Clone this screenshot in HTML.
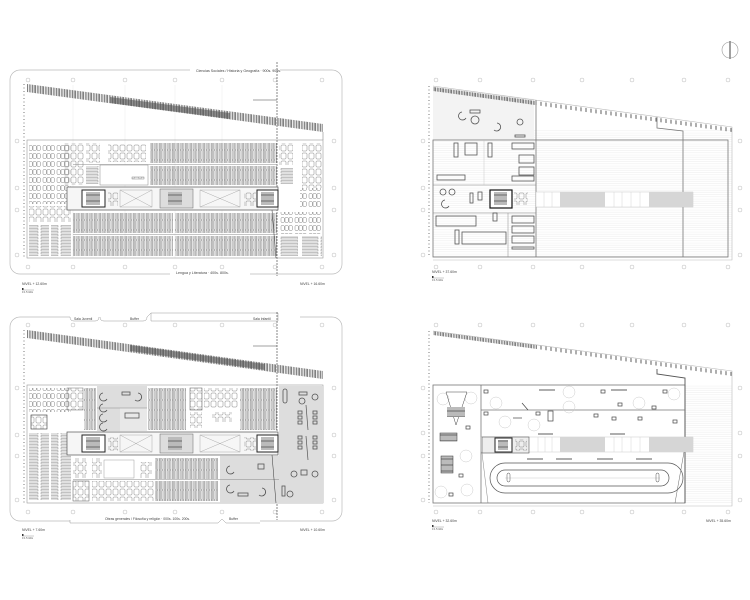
<!DOCTYPE html>
<html><head><meta charset="utf-8"><style>
html,body{margin:0;padding:0;background:#fff}
svg{display:block}
text{font-family:"Liberation Sans",sans-serif;fill:#444}
</style></head><body>
<svg width="750" height="600" viewBox="0 0 750 600" xmlns="http://www.w3.org/2000/svg">
<defs>
<pattern id="vl" width="2.6" height="10" patternUnits="userSpaceOnUse"><rect x="0.6" y="0.5" width="1.2" height="9" fill="none" stroke="#666" stroke-width="0.45"/></pattern>
<pattern id="hl" width="20" height="3" patternUnits="userSpaceOnUse"><rect x="1" y="0.6" width="17" height="1.4" fill="none" stroke="#777" stroke-width="0.45"/></pattern>
<pattern id="tb" width="14" height="8" patternUnits="userSpaceOnUse"><rect x="1" y="1.5" width="3.3" height="5" rx="1" fill="none" stroke="#777" stroke-width="0.45"/><rect x="5" y="1.5" width="3.3" height="5" rx="1" fill="none" stroke="#777" stroke-width="0.45"/><rect x="9" y="1.5" width="3.3" height="5" rx="1" fill="none" stroke="#777" stroke-width="0.45"/></pattern>
<pattern id="tb2" width="7" height="8" patternUnits="userSpaceOnUse"><rect x="1" y="1" width="5" height="6" rx="1" fill="none" stroke="#777" stroke-width="0.45"/></pattern>
<pattern id="bd" width="1.6" height="10" patternUnits="userSpaceOnUse"><line x1="0.5" y1="0" x2="0.5" y2="10" stroke="#333" stroke-width="0.6"/></pattern>
<pattern id="bd2" width="5" height="10" patternUnits="userSpaceOnUse"><line x1="1" y1="0" x2="1" y2="10" stroke="#333" stroke-width="0.8"/></pattern>
<pattern id="fh" width="10" height="2.2" patternUnits="userSpaceOnUse"><line x1="0" y1="1" x2="10" y2="1" stroke="#e2e2e2" stroke-width="0.35"/></pattern>
<pattern id="xs" width="6" height="6" patternUnits="userSpaceOnUse"><rect width="6" height="6" fill="#bbb"/><line x1="0" y1="3" x2="6" y2="3" stroke="#333" stroke-width="0.6"/></pattern>
</defs>

<circle cx="730" cy="50" r="8" fill="none" stroke="#999" stroke-width="0.6"/>
<line x1="730" y1="41" x2="730" y2="59" stroke="#888" stroke-width="1.6"/>

<!-- TOP LEFT -->
<g>
<rect x="10" y="70" width="332" height="204" rx="10" fill="none" stroke="#bbb" stroke-width="0.7"/>
<rect x="190" y="67" width="90" height="6" fill="#fff"/>
<text x="196" y="72" font-size="3.6">Ciencias Sociales / Historia y Geografía · 900s. 909s.</text>
<rect x="170" y="269" width="80" height="7" fill="#fff"/>
<text x="176" y="274" font-size="3.6">Lengua y Literatura · 400s. 800s.</text>
<g fill="none" stroke="#aaa" stroke-width="0.4">
<circle cx="28" cy="80" r="2"/><circle cx="73" cy="80" r="2"/><circle cx="125" cy="80" r="2"/><circle cx="175" cy="80" r="2"/><circle cx="222" cy="80" r="2"/><circle cx="275" cy="80" r="2"/><circle cx="322" cy="80" r="2"/>
<circle cx="28" cy="267" r="2"/><circle cx="73" cy="267" r="2"/><circle cx="125" cy="267" r="2"/><circle cx="175" cy="267" r="2"/><circle cx="222" cy="267" r="2"/><circle cx="275" cy="267" r="2"/><circle cx="322" cy="267" r="2"/>
<circle cx="17" cy="141" r="2"/><circle cx="17" cy="188" r="2"/><circle cx="17" cy="210" r="2"/><circle cx="17" cy="255" r="2"/>
<circle cx="334" cy="141" r="2"/><circle cx="334" cy="188" r="2"/><circle cx="334" cy="210" r="2"/><circle cx="334" cy="255" r="2"/>
</g>
<g stroke="#e4e4e4" stroke-width="0.4"><line x1="73" y1="85" x2="73" y2="258"/><line x1="125" y1="85" x2="125" y2="258"/><line x1="175" y1="85" x2="175" y2="258"/><line x1="222" y1="85" x2="222" y2="258"/></g>
<line x1="24" y1="84" x2="24" y2="258" stroke="#555" stroke-width="0.8" stroke-dasharray="1 2.5"/>
<polygon points="27,84 323,124 323,132 27,92" fill="url(#bd)"/>
<polygon points="110,97 230,113 230,119 110,103" fill="#555" opacity="0.6"/>
<polyline points="323,132 323,140" stroke="#888" stroke-width="0.6" fill="none"/>
<line x1="277" y1="62" x2="277" y2="276" stroke="#555" stroke-width="0.7" stroke-dasharray="2 1"/>
<line x1="253" y1="100" x2="277" y2="100" stroke="#444" stroke-width="0.6"/>
<rect x="27" y="140" width="296" height="118" fill="none" stroke="#999" stroke-width="0.6"/>
<rect x="29" y="144" width="42" height="60" fill="url(#tb)"/>
<rect x="29" y="206" width="42" height="16" fill="url(#tb2)"/>
<rect x="29" y="225" width="20" height="31" fill="url(#hl)"/>
<rect x="51" y="225" width="20" height="31" fill="url(#hl)"/>
<rect x="64" y="143" width="20" height="42" fill="url(#tb2)"/>
<rect x="86" y="143" width="14" height="20" fill="url(#tb2)"/>
<rect x="86" y="166" width="14" height="18" fill="url(#hl)"/>
<rect x="108" y="144" width="38" height="18" fill="url(#tb2)"/>
<rect x="100" y="165" width="48" height="20" fill="#fff" stroke="#888" stroke-width="0.5"/>
<rect x="132" y="177" width="12" height="2" fill="url(#tb2)" stroke="#666" stroke-width="0.4"/>
<rect x="150" y="143" width="127" height="20" fill="url(#vl)"/>
<rect x="150" y="166" width="127" height="19" fill="url(#vl)"/>
<line x1="73" y1="164.5" x2="277" y2="164.5" stroke="#888" stroke-width="0.5"/>
<rect x="67" y="187" width="211" height="23" fill="#f6f6f6" stroke="#555" stroke-width="0.7"/>
<rect x="82" y="190" width="23" height="17" fill="#fff" stroke="#222" stroke-width="1"/>
<rect x="86" y="192" width="14" height="13" fill="url(#xs)"/>
<rect x="108" y="192" width="10" height="14" fill="url(#tb2)"/>
<g stroke="#999" stroke-width="0.4" fill="none"><rect x="120" y="190" width="32" height="17"/><line x1="120" y1="190" x2="152" y2="207"/><line x1="152" y1="190" x2="120" y2="207"/>
<rect x="200" y="190" width="40" height="17"/><line x1="200" y1="190" x2="240" y2="207"/><line x1="240" y1="190" x2="200" y2="207"/></g>
<rect x="160" y="189" width="33" height="19" fill="#ddd" stroke="#666" stroke-width="0.5"/>
<rect x="168" y="192" width="14" height="13" fill="url(#xs)"/>
<rect x="244" y="192" width="12" height="14" fill="url(#tb2)"/>
<rect x="257" y="190" width="21" height="17" fill="#fff" stroke="#222" stroke-width="1"/>
<rect x="261" y="192" width="13" height="13" fill="url(#xs)"/>
<rect x="73" y="213" width="100" height="20" fill="url(#vl)"/>
<rect x="175" y="213" width="102" height="20" fill="url(#vl)"/>
<rect x="73" y="236" width="100" height="20" fill="url(#vl)"/>
<rect x="175" y="236" width="102" height="20" fill="url(#vl)"/>
<line x1="73" y1="234.5" x2="277" y2="234.5" stroke="#888" stroke-width="0.5"/>
<rect x="279" y="143" width="14" height="22" fill="url(#tb2)"/>
<rect x="302" y="143" width="20" height="45" fill="url(#tb2)"/>
<rect x="279" y="168" width="14" height="16" fill="url(#hl)"/>
<rect x="300" y="188" width="22" height="20" fill="url(#tb)"/>
<rect x="280" y="212" width="42" height="22" fill="url(#tb)"/>
<rect x="280" y="236" width="18" height="20" fill="url(#hl)"/>
<rect x="302" y="236" width="20" height="20" fill="url(#hl)"/>
<line x1="272" y1="210" x2="276" y2="258" stroke="#333" stroke-width="0.5"/>
<text x="22" y="285" font-size="3.4">NIVEL + 12.60m</text>
<text x="300" y="285" font-size="3.4">NIVEL + 16.60m</text>
<rect x="22" y="288" width="1.5" height="2" fill="#333"/><line x1="22" y1="290" x2="34" y2="290" stroke="#555" stroke-width="0.3"/>
<text x="22" y="293" font-size="2.5">0 1   5     10m</text>
</g>

<!-- BOTTOM LEFT -->
<g>
<rect x="10" y="317" width="332" height="204" rx="10" fill="none" stroke="#bbb" stroke-width="0.7"/>
<rect x="70" y="313" width="230" height="8" fill="#fff"/>
<path d="M70,317 Q70,321 74,321 H95 Q99,321 99,317 M100,317 Q100,321 104,321 H143 Q147,321 147,317 L151,313 M151,313 H278 V321 H151 Z" fill="none" stroke="#999" stroke-width="0.5"/>
<text x="74" y="320" font-size="3.4">Sala Juvenil</text>
<text x="130" y="320" font-size="3.4">Buffer</text>
<text x="253" y="320" font-size="3.4">Sala Infantil</text>
<rect x="70" y="515" width="190" height="8" fill="#fff"/>
<path d="M70,520 V523 H218 L222,519 L226,523 H260" fill="none" stroke="#999" stroke-width="0.5"/>
<text x="105" y="520" font-size="3.4">Obras generales / Filosofía y religión · 000s. 100s. 200s.</text>
<text x="229" y="520" font-size="3.4">Buffer</text>
<g fill="none" stroke="#aaa" stroke-width="0.4">
<circle cx="28" cy="325" r="2"/><circle cx="73" cy="325" r="2"/><circle cx="125" cy="325" r="2"/><circle cx="175" cy="325" r="2"/><circle cx="222" cy="325" r="2"/><circle cx="275" cy="325" r="2"/><circle cx="322" cy="325" r="2"/>
<circle cx="28" cy="512" r="2"/><circle cx="73" cy="512" r="2"/><circle cx="125" cy="512" r="2"/><circle cx="175" cy="512" r="2"/><circle cx="222" cy="512" r="2"/><circle cx="275" cy="512" r="2"/><circle cx="322" cy="512" r="2"/>
<circle cx="17" cy="388" r="2"/><circle cx="17" cy="435" r="2"/><circle cx="17" cy="456" r="2"/><circle cx="17" cy="500" r="2"/>
<circle cx="334" cy="388" r="2"/><circle cx="334" cy="435" r="2"/><circle cx="334" cy="456" r="2"/><circle cx="334" cy="500" r="2"/>
</g>
<line x1="24" y1="330" x2="24" y2="503" stroke="#555" stroke-width="0.8" stroke-dasharray="1 2.5"/>
<polygon points="27,330 323,371 323,379 27,338" fill="url(#bd)"/>
<polygon points="130,345 265,364 265,370 130,351" fill="#555" opacity="0.6"/>
<line x1="277" y1="312" x2="277" y2="520" stroke="#555" stroke-width="0.7" stroke-dasharray="2 1"/>
<line x1="253" y1="346" x2="277" y2="346" stroke="#444" stroke-width="0.6"/>
<rect x="27" y="385" width="296" height="118" fill="none" stroke="#999" stroke-width="0.6"/>
<rect x="97" y="386" width="50" height="45" fill="#ddd"/>
<rect x="279" y="386" width="44" height="96" fill="#ddd"/>
<rect x="220" y="456" width="59" height="47" fill="#ddd"/>
<rect x="279" y="482" width="44" height="21" fill="#ddd"/>
<rect x="120" y="408" width="27" height="23" fill="#e8e8e8"/>
<line x1="97" y1="408" x2="147" y2="408" stroke="#888" stroke-width="0.5"/>
<rect x="29" y="388" width="42" height="24" fill="url(#tb)"/>
<rect x="31" y="415" width="16" height="14" fill="url(#tb2)" stroke="#333" stroke-width="0.6"/>
<rect x="29" y="433" width="20" height="67" fill="url(#hl)"/>
<rect x="51" y="433" width="20" height="67" fill="url(#hl)"/>
<rect x="67" y="388" width="16" height="22" fill="url(#tb2)" stroke="#777" stroke-width="0.5"/>
<rect x="84" y="388" width="12" height="42" fill="url(#vl)"/>
<rect x="148" y="388" width="38" height="42" fill="url(#vl)"/>
<rect x="190" y="388" width="12" height="22" fill="url(#tb2)" stroke="#555" stroke-width="0.5"/>
<rect x="204" y="388" width="34" height="20" fill="url(#tb2)"/>
<rect x="190" y="412" width="12" height="16" fill="url(#tb2)"/>
<rect x="212" y="412" width="20" height="10" fill="url(#tb2)"/>
<rect x="240" y="388" width="37" height="42" fill="url(#vl)"/>
<g fill="none" stroke="#555" stroke-width="0.8">
<path d="M103,393 a4,4 0 1,0 4,6"/><path d="M103,404 a4,4 0 1,0 4,6"/><path d="M103,414 a4,4 0 1,0 4,6"/><path d="M103,423 a4,4 0 1,0 4,6"/>
<path d="M138,393 a4,4 0 1,1 -3,7"/><rect x="122" y="392" width="8" height="3"/><rect x="125" y="413" width="14" height="5"/>
<rect x="283" y="389" width="4" height="14" rx="2"/><rect x="299" y="392" width="8" height="3"/><circle cx="315" cy="397" r="3"/><circle cx="302" cy="401" r="3"/>
<rect x="298" y="411" width="4" height="3"/><rect x="298" y="416" width="4" height="3"/><rect x="298" y="421" width="4" height="3"/><rect x="313" y="411" width="4" height="3"/><rect x="313" y="416" width="4" height="3"/><rect x="313" y="421" width="4" height="3"/>
<rect x="298" y="436" width="4" height="3"/><rect x="298" y="441" width="4" height="3"/><rect x="298" y="446" width="4" height="3"/><rect x="313" y="436" width="4" height="3"/><rect x="313" y="441" width="4" height="3"/><rect x="313" y="446" width="4" height="3"/>
<rect x="301" y="470" width="6" height="5"/><circle cx="294" cy="474" r="3"/><circle cx="315" cy="474" r="3"/>
<path d="M230,466 a4,4 0 1,0 4,6"/><path d="M230,485 a4,4 0 1,0 4,6"/><path d="M262,488 a4,4 0 1,1 -3,7"/><rect x="258" y="464" width="6" height="5"/><rect x="238" y="493" width="10" height="3"/>
<circle cx="290" cy="494" r="3"/><rect x="282" y="486" width="3" height="10"/>
</g>
<line x1="306" y1="405" x2="308" y2="430" stroke="#555" stroke-width="0.7"/><line x1="306" y1="436" x2="308" y2="460" stroke="#555" stroke-width="0.7"/>
<rect x="67" y="432" width="211" height="23" fill="#f6f6f6" stroke="#555" stroke-width="0.7"/>
<rect x="82" y="435" width="23" height="17" fill="#fff" stroke="#222" stroke-width="1"/>
<rect x="86" y="437" width="14" height="13" fill="url(#xs)"/>
<rect x="108" y="437" width="10" height="14" fill="url(#tb2)"/>
<g stroke="#999" stroke-width="0.4" fill="none"><rect x="120" y="435" width="32" height="17"/><line x1="120" y1="435" x2="152" y2="452"/><line x1="152" y1="435" x2="120" y2="452"/>
<rect x="200" y="435" width="40" height="17"/><line x1="200" y1="435" x2="240" y2="452"/><line x1="240" y1="435" x2="200" y2="452"/></g>
<rect x="160" y="434" width="33" height="19" fill="#ddd" stroke="#666" stroke-width="0.5"/>
<rect x="168" y="437" width="14" height="13" fill="url(#xs)"/>
<rect x="244" y="437" width="12" height="14" fill="url(#tb2)"/>
<rect x="257" y="435" width="21" height="17" fill="#fff" stroke="#222" stroke-width="1"/>
<rect x="261" y="437" width="13" height="13" fill="url(#xs)"/>
<rect x="73" y="458" width="14" height="20" fill="url(#tb2)"/>
<rect x="92" y="458" width="10" height="20" fill="url(#tb2)"/>
<rect x="104" y="460" width="30" height="18" fill="#fff" stroke="#888" stroke-width="0.4"/>
<rect x="140" y="462" width="12" height="16" fill="url(#tb2)"/>
<rect x="155" y="458" width="63" height="21" fill="url(#vl)"/>
<rect x="73" y="481" width="16" height="20" fill="url(#tb2)" stroke="#555" stroke-width="0.5"/>
<rect x="92" y="481" width="62" height="20" fill="url(#tb2)"/>
<rect x="155" y="481" width="63" height="20" fill="url(#vl)"/>
<line x1="73" y1="479.5" x2="279" y2="479.5" stroke="#888" stroke-width="0.5"/>
<line x1="272" y1="455" x2="276" y2="503" stroke="#333" stroke-width="0.5"/>
<text x="22" y="531" font-size="3.4">NIVEL + 7.60m</text>
<text x="300" y="531" font-size="3.4">NIVEL + 10.60m</text>
<rect x="22" y="534" width="1.5" height="2" fill="#333"/><line x1="22" y1="536" x2="34" y2="536" stroke="#555" stroke-width="0.3"/>
<text x="22" y="539" font-size="2.5">0 1   5     10m</text>
</g>

<!-- TOP RIGHT -->
<g>
<g fill="none" stroke="#aaa" stroke-width="0.4">
<circle cx="436" cy="80" r="2"/><circle cx="480" cy="80" r="2"/><circle cx="533" cy="80" r="2"/><circle cx="582" cy="80" r="2"/><circle cx="632" cy="80" r="2"/><circle cx="684" cy="80" r="2"/><circle cx="728" cy="80" r="2"/>
<circle cx="436" cy="267" r="2"/><circle cx="480" cy="267" r="2"/><circle cx="533" cy="267" r="2"/><circle cx="582" cy="267" r="2"/><circle cx="632" cy="267" r="2"/><circle cx="684" cy="267" r="2"/><circle cx="728" cy="267" r="2"/>
<circle cx="423" cy="141" r="2"/><circle cx="423" cy="188" r="2"/><circle cx="423" cy="210" r="2"/><circle cx="423" cy="255" r="2"/>
<circle cx="740" cy="141" r="2"/><circle cx="740" cy="188" r="2"/><circle cx="740" cy="210" r="2"/><circle cx="740" cy="255" r="2"/>
</g>
<rect x="433" y="130" width="299" height="127" fill="url(#fh)"/>
<polygon points="433,86 534,99 534,140 433,140" fill="#f3f3f3"/>
<polygon points="433,87 535,101 535,105 433,91" fill="url(#bd)"/>
<polygon points="535,101 732,128 732,132 535,105" fill="url(#bd2)"/>
<polyline points="433,86 732,127 732,260 433,260" fill="none" stroke="#bbb" stroke-width="0.6"/>
<line x1="429" y1="86" x2="429" y2="257" stroke="#555" stroke-width="0.8" stroke-dasharray="1 2.5"/>
<rect x="433" y="140" width="295" height="117" fill="none" stroke="#777" stroke-width="0.8"/>
<line x1="536" y1="100" x2="536" y2="257" stroke="#777" stroke-width="0.8"/>
<line x1="433" y1="185" x2="536" y2="185" stroke="#888" stroke-width="0.6"/>
<line x1="433" y1="213" x2="536" y2="213" stroke="#888" stroke-width="0.6"/>
<line x1="484" y1="140" x2="484" y2="185" stroke="#bbb" stroke-width="0.4"/>
<line x1="508" y1="213" x2="508" y2="257" stroke="#888" stroke-width="0.5"/>
<polyline points="657,117 657,128 683,131 683,257" fill="none" stroke="#777" stroke-width="0.8"/>
<g fill="none" stroke="#555" stroke-width="0.8">
<path d="M462,112 a4,4 0 1,0 4,6"/><circle cx="475" cy="120" r="4"/><rect x="470" y="110" width="10" height="3"/><path d="M497,123 a4,4 0 1,1 -3,7"/><circle cx="520" cy="122" r="3"/><rect x="515" y="135" width="10" height="2"/>
<rect x="454" y="143" width="4" height="14"/><rect x="465" y="143" width="12" height="12"/><rect x="488" y="143" width="4" height="14"/><rect x="512" y="143" width="22" height="6"/>
<rect x="519" y="155" width="15" height="8"/><rect x="519" y="167" width="15" height="8"/><rect x="437" y="175" width="28" height="5"/><rect x="512" y="176" width="22" height="5"/>
<circle cx="443" cy="192" r="3"/><circle cx="452" cy="192" r="3"/><path d="M445,200 a4,4 0 1,0 4,6"/><rect x="470" y="193" width="3" height="10"/><rect x="478" y="192" width="4" height="8"/>
<rect x="436" y="216" width="40" height="10"/><rect x="455" y="230" width="4" height="14"/><rect x="462" y="232" width="44" height="12"/><rect x="512" y="216" width="22" height="7"/><rect x="512" y="226" width="22" height="7"/><rect x="512" y="236" width="22" height="7"/><rect x="512" y="247" width="22" height="2"/>
<rect x="493" y="213" width="4" height="8"/>
</g>
<rect x="490" y="190" width="22" height="18" fill="#fff" stroke="#111" stroke-width="1.2"/>
<rect x="494" y="192" width="13" height="13" fill="url(#xs)"/>
<rect x="514" y="192" width="14" height="13" fill="url(#tb2)"/>
<rect x="536" y="192" width="157" height="15" fill="#fff" stroke="#bbb" stroke-width="0.4"/>
<g stroke="#ccc" stroke-width="0.4"><line x1="544" y1="192" x2="544" y2="207"/><line x1="552" y1="192" x2="552" y2="207"/><line x1="614" y1="192" x2="614" y2="207"/><line x1="622" y1="192" x2="622" y2="207"/><line x1="631" y1="192" x2="631" y2="207"/><line x1="640" y1="192" x2="640" y2="207"/></g>
<rect x="560" y="192" width="45" height="15" fill="#d6d6d6"/>
<rect x="649" y="192" width="44" height="15" fill="#d6d6d6"/>
<text x="432" y="273" font-size="3.4">NIVEL + 37.60m</text>
<rect x="432" y="276" width="1.5" height="2" fill="#333"/><line x1="432" y1="278" x2="444" y2="278" stroke="#555" stroke-width="0.3"/>
<text x="432" y="281" font-size="2.5">0 1   5     10m</text>
</g>

<!-- BOTTOM RIGHT -->
<g>
<g fill="none" stroke="#aaa" stroke-width="0.4">
<circle cx="436" cy="325" r="2"/><circle cx="480" cy="325" r="2"/><circle cx="533" cy="325" r="2"/><circle cx="582" cy="325" r="2"/><circle cx="632" cy="325" r="2"/><circle cx="684" cy="325" r="2"/><circle cx="728" cy="325" r="2"/>
<circle cx="436" cy="512" r="2"/><circle cx="480" cy="512" r="2"/><circle cx="533" cy="512" r="2"/><circle cx="582" cy="512" r="2"/><circle cx="632" cy="512" r="2"/><circle cx="684" cy="512" r="2"/><circle cx="728" cy="512" r="2"/>
<circle cx="423" cy="388" r="2"/><circle cx="423" cy="433" r="2"/><circle cx="423" cy="456" r="2"/><circle cx="423" cy="500" r="2"/>
<circle cx="740" cy="388" r="2"/><circle cx="740" cy="433" r="2"/><circle cx="740" cy="456" r="2"/><circle cx="740" cy="500" r="2"/>
</g>
<rect x="685" y="385" width="47" height="118" fill="url(#fh)"/>
<polygon points="433,331 537,345 537,349 433,335" fill="url(#bd)"/>
<polygon points="537,345 732,372 732,376 537,349" fill="url(#bd2)"/>
<polyline points="433,331 732,371 732,506 433,506" fill="none" stroke="#bbb" stroke-width="0.6"/>
<line x1="429" y1="331" x2="429" y2="503" stroke="#555" stroke-width="0.8" stroke-dasharray="1 2.5"/>
<rect x="433" y="385" width="252" height="118" fill="none" stroke="#777" stroke-width="0.8"/>
<polyline points="657,369 657,374 685,378 685,503" fill="none" stroke="#555" stroke-width="0.9"/>
<line x1="481" y1="385" x2="481" y2="503" stroke="#666" stroke-width="0.7"/>
<line x1="481" y1="410" x2="685" y2="410" stroke="#777" stroke-width="0.7"/>
<g stroke="#777" stroke-width="1.2"><line x1="539" y1="390" x2="555" y2="390"/><line x1="611" y1="390" x2="627" y2="390"/><line x1="538" y1="434" x2="553" y2="434"/><line x1="610" y1="434" x2="625" y2="434"/>
<line x1="527" y1="459" x2="543" y2="459"/><line x1="556" y1="459" x2="572" y2="459"/><line x1="597" y1="459" x2="613" y2="459"/><line x1="636" y1="459" x2="652" y2="459"/></g>
<g fill="none" stroke="#ccc" stroke-width="0.5">
<circle cx="443" cy="399" r="6"/><circle cx="471" cy="398" r="6"/><circle cx="496" cy="403" r="6"/><circle cx="569" cy="392" r="6"/><circle cx="639" cy="403" r="6"/><circle cx="674" cy="394" r="6"/><circle cx="505" cy="422" r="6"/><circle cx="569" cy="407" r="6"/><circle cx="534" cy="425" r="6"/><circle cx="466" cy="456" r="6"/><circle cx="441" cy="492" r="6"/><circle cx="467" cy="490" r="6"/>
</g>
<g fill="none" stroke="#444" stroke-width="0.7">
<rect x="484" y="390" width="4" height="3"/><rect x="601" y="390" width="4" height="3"/><rect x="663" y="390" width="4" height="3"/><rect x="618" y="403" width="4" height="3"/><rect x="484" y="412" width="4" height="3"/><rect x="536" y="412" width="4" height="3"/><rect x="594" y="414" width="4" height="3"/><rect x="652" y="406" width="4" height="3"/><rect x="612" y="417" width="4" height="3"/><rect x="638" y="417" width="4" height="3"/><rect x="673" y="420" width="4" height="3"/><rect x="548" y="411" width="5" height="10"/><rect x="466" y="426" width="4" height="3"/><rect x="459" y="474" width="4" height="3"/><rect x="449" y="493" width="4" height="3"/>
<line x1="522" y1="403" x2="528" y2="410"/><line x1="513" y1="418" x2="522" y2="418"/>
</g>
<polygon points="446,392 467,392 456,425" fill="none" stroke="#444" stroke-width="0.5"/>
<rect x="447" y="407" width="18" height="10" fill="url(#xs)"/>
<rect x="440" y="433" width="17" height="8" fill="url(#xs)" stroke="#333" stroke-width="0.5"/>
<rect x="441" y="456" width="12" height="17" fill="url(#xs)" stroke="#333" stroke-width="0.5"/>
<rect x="481" y="437" width="212" height="15" fill="#fff" stroke="#bbb" stroke-width="0.4"/>
<rect x="482" y="437" width="47" height="16" fill="#eee" stroke="#555" stroke-width="0.6"/>
<rect x="495" y="438" width="17" height="14" fill="#fff" stroke="#222" stroke-width="1"/>
<rect x="498" y="440" width="10" height="10" fill="url(#xs)"/>
<rect x="515" y="439" width="12" height="12" fill="url(#tb2)"/>
<g stroke="#ccc" stroke-width="0.4"><line x1="538" y1="437" x2="538" y2="452"/><line x1="545" y1="437" x2="545" y2="452"/><line x1="552" y1="437" x2="552" y2="452"/><line x1="614" y1="437" x2="614" y2="452"/><line x1="622" y1="437" x2="622" y2="452"/><line x1="631" y1="437" x2="631" y2="452"/><line x1="640" y1="437" x2="640" y2="452"/></g>
<rect x="560" y="437" width="45" height="15" fill="#d6d6d6"/>
<rect x="649" y="437" width="44" height="15" fill="#d6d6d6"/>
<rect x="490" y="463" width="193" height="30" rx="15" fill="none" stroke="#555" stroke-width="0.7"/>
<rect x="497" y="470" width="172" height="16" rx="8" fill="none" stroke="#555" stroke-width="0.7"/>
<line x1="505" y1="478" x2="660" y2="478" stroke="#aaa" stroke-width="0.3"/>
<rect x="507" y="473" width="3" height="9" rx="1.5" fill="none" stroke="#555" stroke-width="0.5"/>
<rect x="656" y="473" width="3" height="9" rx="1.5" fill="none" stroke="#555" stroke-width="0.5"/>
<line x1="684" y1="452" x2="675" y2="503" stroke="#666" stroke-width="0.5"/>
<line x1="482" y1="453" x2="488" y2="503" stroke="#666" stroke-width="0.4"/>
<text x="432" y="522" font-size="3.4">NIVEL + 32.60m</text>
<text x="706" y="522" font-size="3.4">NIVEL + 35.60m</text>
<rect x="432" y="525" width="1.5" height="2" fill="#333"/><line x1="432" y1="527" x2="444" y2="527" stroke="#555" stroke-width="0.3"/>
<text x="432" y="530" font-size="2.5">0 1   5     10m</text>
</g>
</svg>
</body></html>
